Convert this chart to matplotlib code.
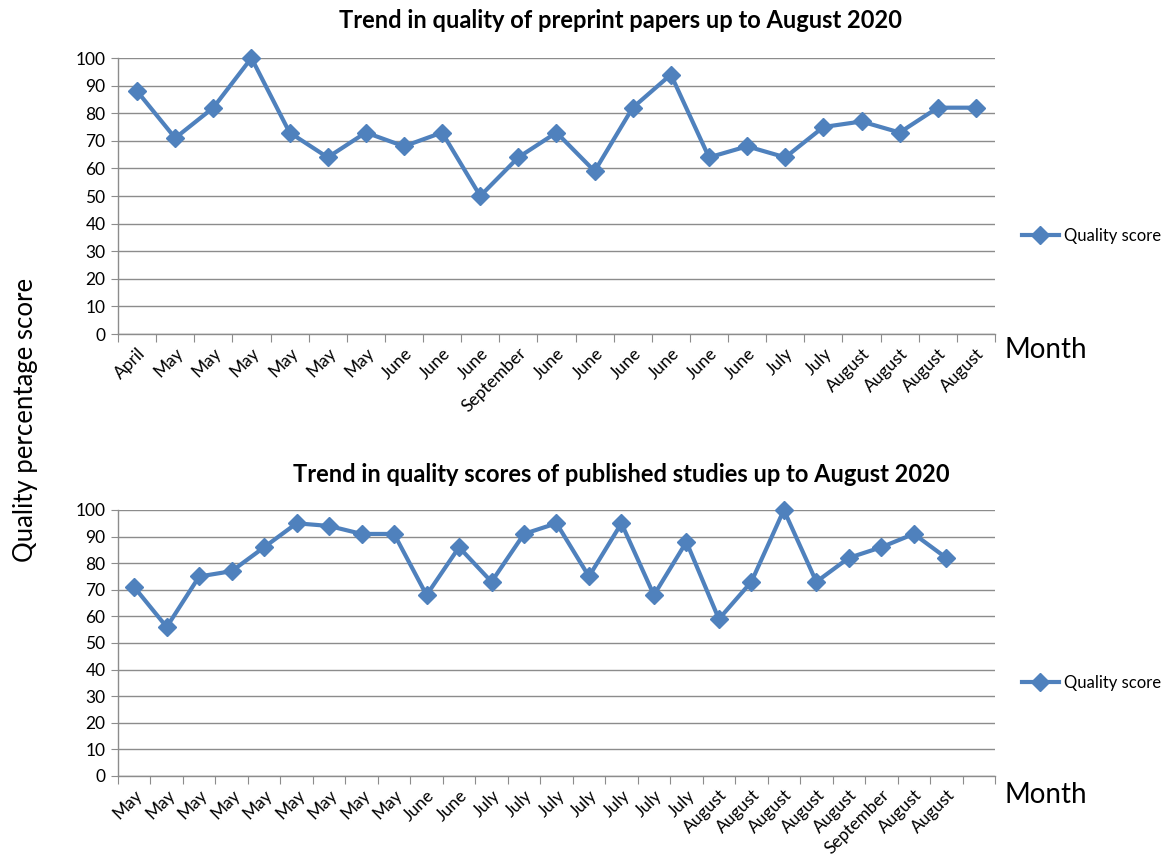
import numpy as np
import matplotlib.pyplot as plt

plt.rcParams["font.family"] = ["Lato", "DejaVu Sans"]

# preprint papers
pre_months = ["April", "May", "May", "May", "May", "May", "May", "June", "June",
              "June", "September", "June", "June", "June", "June", "June", "June",
              "July", "July", "August", "August", "August", "August"]
pre_scores = [88, 71, 82, 100, 73, 64, 73, 68, 73, 50, 64, 73, 59, 82, 94,
              64, 68, 64, 75, 77, 73, 82, 82]

# published studies (one empty category slot at the end of the axis)
pub_months = ["May", "May", "May", "May", "May", "May", "May", "May", "May",
              "June", "June", "July", "July", "July", "July", "July", "July", "July",
              "August", "August", "August", "August", "August", "September",
              "August", "August"]
pub_scores = [71, 56, 75, 77, 86, 95, 94, 91, 91, 68, 86, 73, 91, 95, 75, 95,
              68, 88, 59, 73, 100, 73, 82, 86, 91, 82]
pub_slots = len(pub_months) + 1

BLUE = "#4F81BD"
GRID = "#8C8C8C"

fig = plt.figure(figsize=(11.67, 8.58), dpi=100, facecolor="white")


def draw(rect, months, scores, nslots, title, title_y, legend_y, month_y):
    ax = fig.add_axes(rect)
    x = np.arange(len(scores))
    ln, = ax.plot(x, scores, color=BLUE, lw=3, marker="D", ms=9,
                  mec=BLUE, mfc=BLUE, zorder=3, clip_on=False, label="Quality score")
    ax.set_xlim(-0.5, nslots - 0.5)
    ax.set_ylim(0, 100)
    ax.set_yticks(np.arange(0, 101, 10))
    ax.yaxis.grid(True, color=GRID, lw=1)
    ax.set_axisbelow(True)
    for s in ("top", "right"):
        ax.spines[s].set_visible(False)
    for s in ("left", "bottom"):
        ax.spines[s].set_color(GRID)
        ax.spines[s].set_linewidth(1)

    ax.set_xticks(np.arange(nslots + 1) - 0.5)
    ax.set_xticklabels([])
    ax.set_xticks(x, minor=True)
    ax.set_xticklabels(months, minor=True, rotation=45, ha="right",
                       rotation_mode="anchor", fontsize=12.5)
    ax.tick_params(axis="x", which="major", length=6, color=GRID)
    ax.tick_params(axis="x", which="minor", length=0, pad=8)
    ax.tick_params(axis="y", length=5, color=GRID, labelsize=12.5, pad=4)

    fig.text(0.532, title_y, title, ha="center", va="center",
             fontsize=17, fontweight="bold")
    fig.text(0.861, month_y, "Month", ha="left", va="center", fontsize=20)
    fig.legend(handles=[ln], loc="center left", bbox_to_anchor=(0.863, legend_y),
               frameon=False, fontsize=12, handlelength=2.2, handletextpad=0.3)
    return ax


draw([0.1011, 0.6107, 0.7515, 0.3217], pre_months, pre_scores, len(pre_months),
     "Trend in quality of preprint papers up to August 2020", 0.976, 0.7255, 0.592)
draw([0.1011, 0.0956, 0.7515, 0.3100], pub_months, pub_scores, pub_slots,
     "Trend in quality scores of published studies up to August 2020", 0.447, 0.204, 0.073)

fig.text(0.022, 0.51, "Quality percentage score", rotation=90, ha="center",
         va="center", fontsize=18.5)

fig.savefig("out.png", dpi=100, facecolor="white")
